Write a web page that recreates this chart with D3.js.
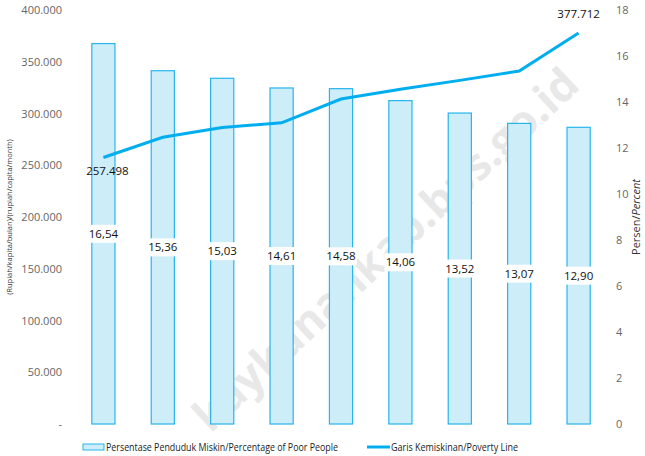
<!DOCTYPE html>
<html>
<head>
<meta charset="utf-8">
<script src="https://cdn.jsdelivr.net/npm/d3@7"></script>
<style>
  body { margin: 0; background: #fff; }
  svg { display: block; font-family: "Open Sans", sans-serif; }
</style>
</head>
<body>
<svg id="chart" width="645" height="456"></svg>
<script>
// years are not printed on the chart, so categories are just indexes
const categories = ["1", "2", "3", "4", "5", "6", "7", "8", "9"];
const percentPoor = [16.54, 15.36, 15.03, 14.61, 14.58, 14.06, 13.52, 13.07, 12.90];
const povertyLine = [257498, 277000, 286500, 291000, 314000, 323500, 332000, 341000, 377712];
const leftTicks = [0, 50000, 100000, 150000, 200000, 250000, 300000, 350000, 400000];
const rightTicks = [0, 2, 4, 6, 8, 10, 12, 14, 16, 18];

const svg = d3.select("#chart");

const plotTop = 10, plotBottom = 424;

let x = d3.scaleBand()
    .domain(categories)
    .range([74, 608])
    .paddingInner(0.61)
    .paddingOuter(0.3);

let yLeft = d3.scaleLinear().domain([0, 400000]).range([plotBottom, plotTop]);
let yRight = d3.scaleLinear().domain([0, 18]).range([plotBottom, plotTop]);

// watermark
svg.append("text")
    .attr("transform", "translate(388,252) rotate(-43)")
    .attr("text-anchor", "middle")
    .attr("dominant-baseline", "middle")
    .attr("font-size", 44)
    .attr("font-weight", "bold")
    .attr("fill", "#e8e8e8")
    .text("kaykanankab.bps.go.id");

// left axis
const fmtRp = d => d === 0 ? "-" : d3.format(",")(d).replace(/,/g, ".");
let leftAxis = svg.append("g")
    .attr("transform", "translate(62,0)")
    .call(d3.axisLeft(yLeft).tickValues(leftTicks).tickFormat(fmtRp).tickSize(0).tickPadding(0));
leftAxis.select(".domain").remove();
leftAxis.selectAll("text").attr("fill", "#666").attr("font-size", 11).attr("font-family", "Open Sans");

// right axis
let rightAxis = svg.append("g")
    .attr("transform", "translate(616,0)")
    .call(d3.axisRight(yRight).tickValues(rightTicks).tickSize(0).tickPadding(0));
rightAxis.select(".domain").remove();
rightAxis.selectAll("text").attr("fill", "#666").attr("font-size", 11).attr("font-family", "Open Sans");

// axis titles
svg.append("text")
    .attr("transform", "translate(12,217) rotate(-90)")
    .attr("text-anchor", "middle")
    .attr("font-size", 7.5)
    .attr("fill", "#333")
    .text("(Rupiah/kapita/bulan)/(rupiah/capita/month)");

let rt = svg.append("text")
    .attr("transform", "translate(640,217) rotate(-90)")
    .attr("text-anchor", "middle")
    .attr("font-size", 11)
    .attr("fill", "#333");
rt.append("tspan").text("Persen/");
rt.append("tspan").attr("font-style", "italic").text("Percent");

// bars
svg.append("g").selectAll("rect")
    .data(percentPoor)
    .join("rect")
    .attr("x", (d, i) => x(categories[i]))
    .attr("y", d => yRight(d))
    .attr("width", x.bandwidth())
    .attr("height", d => yRight(0) - yRight(d))
    .attr("fill", "#cdedf9")
    .attr("stroke", "#27b5ec")
    .attr("stroke-width", 1.2);

// bar labels at mid height, on white boxes
let labels = svg.append("g").selectAll("g")
    .data(percentPoor)
    .join("g")
    .attr("transform", (d, i) => `translate(${x(categories[i]) + x.bandwidth() / 2},${yRight(d / 2)})`);
labels.append("rect")
    .attr("x", -16).attr("y", -9)
    .attr("width", 32).attr("height", 18)
    .attr("fill", "#fff");
labels.append("text")
    .attr("text-anchor", "middle")
    .attr("dy", "0.35em")
    .attr("font-size", 11.5)
    .attr("fill", "#111")
    .text(d => d.toFixed(2).replace(".", ","));

// poverty line
let line = d3.line()
    .x((d, i) => x(categories[i]) + x.bandwidth() / 2)
    .y(d => yLeft(d));

svg.append("path")
    .datum(povertyLine)
    .attr("d", line)
    .attr("fill", "none")
    .attr("stroke", "#00aeef")
    .attr("stroke-width", 3);

const fmtDot = d => d3.format(",")(d).replace(/,/g, ".");
let last = povertyLine.length - 1;
svg.append("text")
    .attr("x", x(categories[0]) + x.bandwidth() / 2 + 4)
    .attr("y", yLeft(povertyLine[0]) + 18)
    .attr("text-anchor", "middle")
    .attr("font-size", 11.5)
    .attr("fill", "#111")
    .text(fmtDot(povertyLine[0]));
svg.append("text")
    .attr("x", x(categories[last]) + x.bandwidth() / 2)
    .attr("y", yLeft(povertyLine[last]) - 15)
    .attr("text-anchor", "middle")
    .attr("font-size", 11.5)
    .attr("fill", "#111")
    .text(fmtDot(povertyLine[last]));

// legend
let legend = svg.append("g").attr("font-size", 11).attr("fill", "#222");
legend.append("rect")
    .attr("x", 83).attr("y", 444).attr("width", 21).attr("height", 6)
    .attr("fill", "#cdedf9").attr("stroke", "#27b5ec");
legend.append("text")
    .attr("x", 106).attr("y", 447).attr("dy", "0.35em")
    .attr("textLength", 232).attr("lengthAdjust", "spacingAndGlyphs")
    .text("Persentase Penduduk Miskin/Percentage of Poor People");
legend.append("line")
    .attr("x1", 367).attr("x2", 390).attr("y1", 447).attr("y2", 447)
    .attr("stroke", "#00aeef").attr("stroke-width", 3);
legend.append("text")
    .attr("x", 391).attr("y", 447).attr("dy", "0.35em")
    .attr("textLength", 127).attr("lengthAdjust", "spacingAndGlyphs")
    .text("Garis Kemiskinan/Poverty Line");
</script>
</body>
</html>
